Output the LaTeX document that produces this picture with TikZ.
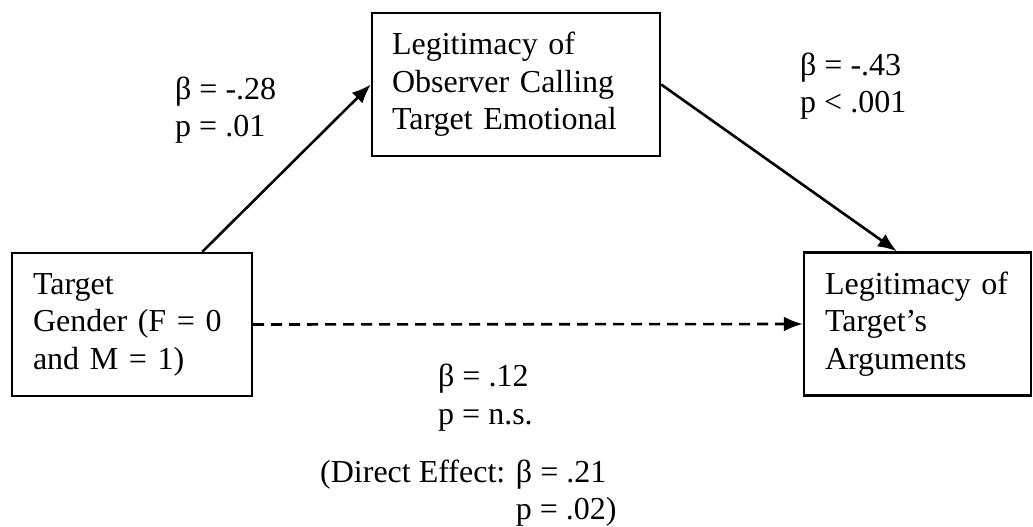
\documentclass[tikz,border=0pt]{standalone}
\usepackage{fontspec}
\setmainfont{Liberation Serif}
\usetikzlibrary{calc}
\usetikzlibrary{arrows.meta}
\tikzset{
  varbox/.style={draw, line width=2.4pt, align=left, minimum height=143pt, inner ysep=0pt},
  coef/.style={align=left, anchor=west, inner sep=0pt},
  effect/.style={line width=2.6pt, -{Latex[length=19pt,width=15pt]}},
}

\begin{document}
\begin{tikzpicture}[x=1pt, y=-1pt, every node/.style={font=\fontsize{32}{37.5}\selectfont}]
  \useasboundingbox (0,0) rectangle (1033,527);
  \node [varbox, text width=198pt, inner xsep=21pt] (gender) at (132,324.5) {Target\\ Gender (F = 0\\ and M = 1)};
  \node [varbox, text width=248pt, inner xsep=20pt] (emotional) at (516,84.5) {Legitimacy of\\ Observer Calling\\ Target Emotional};
  \node [varbox, text width=185pt, inner xsep=21pt] (arguments) at (917.5,324) {Legitimacy of\\ Target’s\\ Arguments};

  \draw [effect] ($(gender.north west)!0.79!(gender.north east)$) -- (emotional.west);
  \draw [effect] (emotional.east) -- ($(arguments.north west)!0.41!(arguments.north east)$);
  \draw [effect, dash pattern=on 11pt off 7pt] (gender.east) -- (arguments.west);

  % path coefficients
  \node [coef] (apath) at (175,110) {β = -.28\\ p = .01};
  \node [coef] (bpath) at (800,86) {β = -.43\\ p < .001};
  \node [coef] (cpath) at (438,397.5) {β = .12\\ p = n.s.};
  \node [coef] (direct) at (320,493) {(Direct Effect: β = .21\\ \phantom{(Direct Effect: }p = .02)};
\end{tikzpicture}
\end{document}
